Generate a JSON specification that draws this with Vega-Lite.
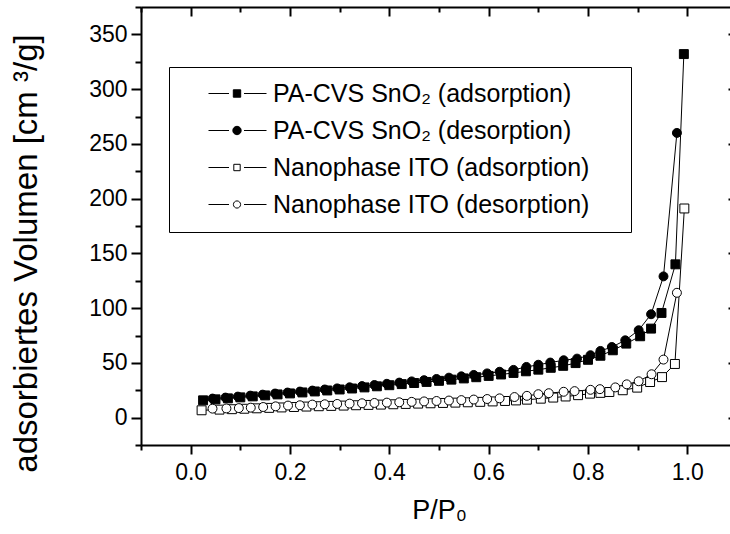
{
  "$schema": "https://vega.github.io/schema/vega-lite/v6.json",
  "width": 587,
  "height": 438,
  "autosize": "none",
  "padding": {"left": 141, "top": 7, "right": 2, "bottom": 89},
  "background": "white",
  "config": {
    "view": {"stroke": null},
    "font": "Liberation Sans",
    "axis": {
      "labelFont": "Liberation Sans",
      "titleFont": "Liberation Sans",
      "labelColor": "black",
      "titleColor": "black",
      "tickColor": "black",
      "domainColor": "black",
      "grid": false,
      "tickWidth": 2,
      "domainWidth": 2,
      "titleFontWeight": "normal",
      "labelFontSize": 23,
      "titleFontSize": 26
    }
  },
  "data": {
    "values": [
      {"series": "PA-CVS SnO₂ (adsorption)", "x": 0.025, "y": 15.8},
      {"series": "PA-CVS SnO₂ (adsorption)", "x": 0.05, "y": 16.7},
      {"series": "PA-CVS SnO₂ (adsorption)", "x": 0.075, "y": 17.6},
      {"series": "PA-CVS SnO₂ (adsorption)", "x": 0.1, "y": 18.5},
      {"series": "PA-CVS SnO₂ (adsorption)", "x": 0.125, "y": 19.4},
      {"series": "PA-CVS SnO₂ (adsorption)", "x": 0.15, "y": 20.3},
      {"series": "PA-CVS SnO₂ (adsorption)", "x": 0.175, "y": 21.2},
      {"series": "PA-CVS SnO₂ (adsorption)", "x": 0.2, "y": 22.1},
      {"series": "PA-CVS SnO₂ (adsorption)", "x": 0.225, "y": 23.0},
      {"series": "PA-CVS SnO₂ (adsorption)", "x": 0.25, "y": 23.9},
      {"series": "PA-CVS SnO₂ (adsorption)", "x": 0.275, "y": 24.8},
      {"series": "PA-CVS SnO₂ (adsorption)", "x": 0.3, "y": 25.7},
      {"series": "PA-CVS SnO₂ (adsorption)", "x": 0.325, "y": 26.6},
      {"series": "PA-CVS SnO₂ (adsorption)", "x": 0.35, "y": 27.6},
      {"series": "PA-CVS SnO₂ (adsorption)", "x": 0.375, "y": 28.6},
      {"series": "PA-CVS SnO₂ (adsorption)", "x": 0.4, "y": 29.6},
      {"series": "PA-CVS SnO₂ (adsorption)", "x": 0.425, "y": 30.6},
      {"series": "PA-CVS SnO₂ (adsorption)", "x": 0.45, "y": 31.6},
      {"series": "PA-CVS SnO₂ (adsorption)", "x": 0.475, "y": 32.6},
      {"series": "PA-CVS SnO₂ (adsorption)", "x": 0.5, "y": 33.6},
      {"series": "PA-CVS SnO₂ (adsorption)", "x": 0.525, "y": 34.7},
      {"series": "PA-CVS SnO₂ (adsorption)", "x": 0.55, "y": 35.8},
      {"series": "PA-CVS SnO₂ (adsorption)", "x": 0.575, "y": 36.9},
      {"series": "PA-CVS SnO₂ (adsorption)", "x": 0.6, "y": 38.1},
      {"series": "PA-CVS SnO₂ (adsorption)", "x": 0.625, "y": 39.4},
      {"series": "PA-CVS SnO₂ (adsorption)", "x": 0.65, "y": 40.8},
      {"series": "PA-CVS SnO₂ (adsorption)", "x": 0.675, "y": 42.3},
      {"series": "PA-CVS SnO₂ (adsorption)", "x": 0.7, "y": 43.8},
      {"series": "PA-CVS SnO₂ (adsorption)", "x": 0.725, "y": 45.5},
      {"series": "PA-CVS SnO₂ (adsorption)", "x": 0.75, "y": 47.3},
      {"series": "PA-CVS SnO₂ (adsorption)", "x": 0.775, "y": 49.8},
      {"series": "PA-CVS SnO₂ (adsorption)", "x": 0.8, "y": 52.8},
      {"series": "PA-CVS SnO₂ (adsorption)", "x": 0.825, "y": 56.5},
      {"series": "PA-CVS SnO₂ (adsorption)", "x": 0.85, "y": 61.5},
      {"series": "PA-CVS SnO₂ (adsorption)", "x": 0.877, "y": 67.6},
      {"series": "PA-CVS SnO₂ (adsorption)", "x": 0.905, "y": 74.3},
      {"series": "PA-CVS SnO₂ (adsorption)", "x": 0.927, "y": 81.3},
      {"series": "PA-CVS SnO₂ (adsorption)", "x": 0.948, "y": 95.6},
      {"series": "PA-CVS SnO₂ (adsorption)", "x": 0.976, "y": 140},
      {"series": "PA-CVS SnO₂ (adsorption)", "x": 0.993, "y": 332},
      {"series": "PA-CVS SnO₂ (desorption)", "x": 0.044, "y": 17.4},
      {"series": "PA-CVS SnO₂ (desorption)", "x": 0.07, "y": 18.3},
      {"series": "PA-CVS SnO₂ (desorption)", "x": 0.095, "y": 19.2},
      {"series": "PA-CVS SnO₂ (desorption)", "x": 0.12, "y": 20.1},
      {"series": "PA-CVS SnO₂ (desorption)", "x": 0.145, "y": 21.0},
      {"series": "PA-CVS SnO₂ (desorption)", "x": 0.17, "y": 22.0},
      {"series": "PA-CVS SnO₂ (desorption)", "x": 0.195, "y": 22.9},
      {"series": "PA-CVS SnO₂ (desorption)", "x": 0.22, "y": 23.8},
      {"series": "PA-CVS SnO₂ (desorption)", "x": 0.245, "y": 24.7},
      {"series": "PA-CVS SnO₂ (desorption)", "x": 0.27, "y": 25.7},
      {"series": "PA-CVS SnO₂ (desorption)", "x": 0.295, "y": 26.7},
      {"series": "PA-CVS SnO₂ (desorption)", "x": 0.32, "y": 27.7},
      {"series": "PA-CVS SnO₂ (desorption)", "x": 0.345, "y": 28.8},
      {"series": "PA-CVS SnO₂ (desorption)", "x": 0.37, "y": 29.8},
      {"series": "PA-CVS SnO₂ (desorption)", "x": 0.395, "y": 30.9},
      {"series": "PA-CVS SnO₂ (desorption)", "x": 0.42, "y": 32.0},
      {"series": "PA-CVS SnO₂ (desorption)", "x": 0.445, "y": 33.1},
      {"series": "PA-CVS SnO₂ (desorption)", "x": 0.47, "y": 34.2},
      {"series": "PA-CVS SnO₂ (desorption)", "x": 0.495, "y": 35.3},
      {"series": "PA-CVS SnO₂ (desorption)", "x": 0.52, "y": 36.5},
      {"series": "PA-CVS SnO₂ (desorption)", "x": 0.545, "y": 37.7},
      {"series": "PA-CVS SnO₂ (desorption)", "x": 0.57, "y": 39.0},
      {"series": "PA-CVS SnO₂ (desorption)", "x": 0.597, "y": 40.4},
      {"series": "PA-CVS SnO₂ (desorption)", "x": 0.622, "y": 41.9},
      {"series": "PA-CVS SnO₂ (desorption)", "x": 0.65, "y": 43.6},
      {"series": "PA-CVS SnO₂ (desorption)", "x": 0.676, "y": 46.3},
      {"series": "PA-CVS SnO₂ (desorption)", "x": 0.7, "y": 48.3},
      {"series": "PA-CVS SnO₂ (desorption)", "x": 0.724, "y": 50.3},
      {"series": "PA-CVS SnO₂ (desorption)", "x": 0.751, "y": 52.4},
      {"series": "PA-CVS SnO₂ (desorption)", "x": 0.778, "y": 53.9},
      {"series": "PA-CVS SnO₂ (desorption)", "x": 0.805, "y": 57.0},
      {"series": "PA-CVS SnO₂ (desorption)", "x": 0.825, "y": 60.9},
      {"series": "PA-CVS SnO₂ (desorption)", "x": 0.848, "y": 64.5},
      {"series": "PA-CVS SnO₂ (desorption)", "x": 0.875, "y": 70.6},
      {"series": "PA-CVS SnO₂ (desorption)", "x": 0.902, "y": 79.8},
      {"series": "PA-CVS SnO₂ (desorption)", "x": 0.927, "y": 94.4},
      {"series": "PA-CVS SnO₂ (desorption)", "x": 0.952, "y": 129},
      {"series": "PA-CVS SnO₂ (desorption)", "x": 0.979, "y": 260},
      {"series": "Nanophase ITO (adsorption)", "x": 0.022, "y": 6.7},
      {"series": "Nanophase ITO (adsorption)", "x": 0.058, "y": 7.3},
      {"series": "Nanophase ITO (adsorption)", "x": 0.083, "y": 7.7},
      {"series": "Nanophase ITO (adsorption)", "x": 0.108, "y": 8.1},
      {"series": "Nanophase ITO (adsorption)", "x": 0.133, "y": 8.5},
      {"series": "Nanophase ITO (adsorption)", "x": 0.158, "y": 8.9},
      {"series": "Nanophase ITO (adsorption)", "x": 0.183, "y": 9.3},
      {"series": "Nanophase ITO (adsorption)", "x": 0.208, "y": 9.7},
      {"series": "Nanophase ITO (adsorption)", "x": 0.233, "y": 10.1},
      {"series": "Nanophase ITO (adsorption)", "x": 0.258, "y": 10.4},
      {"series": "Nanophase ITO (adsorption)", "x": 0.283, "y": 10.7},
      {"series": "Nanophase ITO (adsorption)", "x": 0.308, "y": 11.0},
      {"series": "Nanophase ITO (adsorption)", "x": 0.333, "y": 11.3},
      {"series": "Nanophase ITO (adsorption)", "x": 0.358, "y": 11.6},
      {"series": "Nanophase ITO (adsorption)", "x": 0.383, "y": 11.9},
      {"series": "Nanophase ITO (adsorption)", "x": 0.408, "y": 12.2},
      {"series": "Nanophase ITO (adsorption)", "x": 0.433, "y": 12.5},
      {"series": "Nanophase ITO (adsorption)", "x": 0.458, "y": 12.8},
      {"series": "Nanophase ITO (adsorption)", "x": 0.483, "y": 13.1},
      {"series": "Nanophase ITO (adsorption)", "x": 0.508, "y": 13.4},
      {"series": "Nanophase ITO (adsorption)", "x": 0.533, "y": 13.7},
      {"series": "Nanophase ITO (adsorption)", "x": 0.558, "y": 14.0},
      {"series": "Nanophase ITO (adsorption)", "x": 0.583, "y": 14.4},
      {"series": "Nanophase ITO (adsorption)", "x": 0.608, "y": 14.8},
      {"series": "Nanophase ITO (adsorption)", "x": 0.633, "y": 15.2},
      {"series": "Nanophase ITO (adsorption)", "x": 0.655, "y": 15.7},
      {"series": "Nanophase ITO (adsorption)", "x": 0.677, "y": 16.4},
      {"series": "Nanophase ITO (adsorption)", "x": 0.705, "y": 17.3},
      {"series": "Nanophase ITO (adsorption)", "x": 0.73, "y": 18.3},
      {"series": "Nanophase ITO (adsorption)", "x": 0.755, "y": 19.3},
      {"series": "Nanophase ITO (adsorption)", "x": 0.78, "y": 20.5},
      {"series": "Nanophase ITO (adsorption)", "x": 0.804, "y": 21.9},
      {"series": "Nanophase ITO (adsorption)", "x": 0.825, "y": 22.6},
      {"series": "Nanophase ITO (adsorption)", "x": 0.843, "y": 23.4},
      {"series": "Nanophase ITO (adsorption)", "x": 0.87, "y": 25.0},
      {"series": "Nanophase ITO (adsorption)", "x": 0.899, "y": 27.4},
      {"series": "Nanophase ITO (adsorption)", "x": 0.925, "y": 32.5},
      {"series": "Nanophase ITO (adsorption)", "x": 0.949, "y": 37},
      {"series": "Nanophase ITO (adsorption)", "x": 0.975, "y": 49},
      {"series": "Nanophase ITO (adsorption)", "x": 0.994, "y": 191},
      {"series": "Nanophase ITO (desorption)", "x": 0.044, "y": 8.2},
      {"series": "Nanophase ITO (desorption)", "x": 0.072, "y": 8.4},
      {"series": "Nanophase ITO (desorption)", "x": 0.097, "y": 8.7},
      {"series": "Nanophase ITO (desorption)", "x": 0.121, "y": 9.1},
      {"series": "Nanophase ITO (desorption)", "x": 0.146, "y": 9.7},
      {"series": "Nanophase ITO (desorption)", "x": 0.171, "y": 10.3},
      {"series": "Nanophase ITO (desorption)", "x": 0.196, "y": 11.0},
      {"series": "Nanophase ITO (desorption)", "x": 0.22, "y": 11.3},
      {"series": "Nanophase ITO (desorption)", "x": 0.245, "y": 11.9},
      {"series": "Nanophase ITO (desorption)", "x": 0.27, "y": 12.2},
      {"series": "Nanophase ITO (desorption)", "x": 0.295, "y": 12.5},
      {"series": "Nanophase ITO (desorption)", "x": 0.32, "y": 12.8},
      {"series": "Nanophase ITO (desorption)", "x": 0.345, "y": 13.1},
      {"series": "Nanophase ITO (desorption)", "x": 0.37, "y": 13.4},
      {"series": "Nanophase ITO (desorption)", "x": 0.395, "y": 13.7},
      {"series": "Nanophase ITO (desorption)", "x": 0.42, "y": 14.0},
      {"series": "Nanophase ITO (desorption)", "x": 0.445, "y": 14.4},
      {"series": "Nanophase ITO (desorption)", "x": 0.47, "y": 14.8},
      {"series": "Nanophase ITO (desorption)", "x": 0.495, "y": 15.2},
      {"series": "Nanophase ITO (desorption)", "x": 0.52, "y": 15.6},
      {"series": "Nanophase ITO (desorption)", "x": 0.545, "y": 16.0},
      {"series": "Nanophase ITO (desorption)", "x": 0.57, "y": 16.5},
      {"series": "Nanophase ITO (desorption)", "x": 0.597, "y": 17.0},
      {"series": "Nanophase ITO (desorption)", "x": 0.622, "y": 17.6},
      {"series": "Nanophase ITO (desorption)", "x": 0.652, "y": 18.8},
      {"series": "Nanophase ITO (desorption)", "x": 0.677, "y": 19.9},
      {"series": "Nanophase ITO (desorption)", "x": 0.7, "y": 21.4},
      {"series": "Nanophase ITO (desorption)", "x": 0.721, "y": 22.3},
      {"series": "Nanophase ITO (desorption)", "x": 0.751, "y": 23.6},
      {"series": "Nanophase ITO (desorption)", "x": 0.773, "y": 24.2},
      {"series": "Nanophase ITO (desorption)", "x": 0.805, "y": 25.4},
      {"series": "Nanophase ITO (desorption)", "x": 0.824, "y": 26.0},
      {"series": "Nanophase ITO (desorption)", "x": 0.855, "y": 27.6},
      {"series": "Nanophase ITO (desorption)", "x": 0.878, "y": 30.4},
      {"series": "Nanophase ITO (desorption)", "x": 0.902, "y": 33.2},
      {"series": "Nanophase ITO (desorption)", "x": 0.928, "y": 39.6},
      {"series": "Nanophase ITO (desorption)", "x": 0.952, "y": 53},
      {"series": "Nanophase ITO (desorption)", "x": 0.979, "y": 114}
    ]
  },
  "resolve": {"axis": {"x": "independent", "y": "independent"}},
  "layer": [
    {
      "mark": {"type": "line", "color": "black", "strokeWidth": 1},
      "encoding": {
        "x": {"field": "x", "type": "quantitative",
          "scale": {"domain": [-0.1, 1.1], "range": [0, 596], "nice": false, "zero": false},
          "axis": {"orient": "bottom", "values": [0, 0.2, 0.4, 0.6, 0.8, 1.0], "format": ".1f", "tickSize": 9, "labelPadding": 7, "title": "P/P₀", "titleFontSize": 27, "titlePadding": 13}},
        "y": {"field": "y", "type": "quantitative",
          "scale": {"domain": [-25, 375], "nice": false, "zero": false},
          "axis": {"orient": "left", "values": [0, 50, 100, 150, 200, 250, 300, 350], "tickSize": 10, "labelPadding": 4, "title": "adsorbiertes Volumen [cm ³/g]", "titleFontSize": 33, "titlePadding": 45, "titleY": 246}},
        "detail": {"field": "series", "type": "nominal"}
      }
    },
    {
      "mark": {"type": "point", "stroke": "black", "strokeWidth": 1, "opacity": 1, "size": 80},
      "encoding": {
        "x": {"field": "x", "type": "quantitative",
          "scale": {"domain": [-0.1, 1.1], "range": [0, 596], "nice": false, "zero": false},
          "axis": {"orient": "bottom", "values": [-0.1, 0.1, 0.3, 0.5, 0.7, 0.9], "tickSize": 5, "labels": false, "domain": false, "title": null}},
        "y": {"field": "y", "type": "quantitative",
          "scale": {"domain": [-25, 375], "nice": false, "zero": false},
          "axis": {"orient": "left", "values": [-25, 25, 75, 125, 175, 225, 275, 325, 375], "tickSize": 6, "labels": false, "domain": false, "title": null}},
        "shape": {"condition": {"test": "datum.series == 'PA-CVS SnO₂ (adsorption)' || datum.series == 'Nanophase ITO (adsorption)'", "value": "square"}, "value": "circle"},
        "fill": {"condition": {"test": "datum.series == 'PA-CVS SnO₂ (adsorption)' || datum.series == 'PA-CVS SnO₂ (desorption)'", "value": "black"}, "value": "white"}
      }
    },
    {
      "transform": [{"filter": "datum.x > 5"}],
      "mark": {"type": "point", "filled": true, "color": "black", "stroke": "black", "strokeWidth": 1, "opacity": 1},
      "encoding": {
        "shape": {"field": "series", "type": "nominal",
          "scale": {"domain": ["PA-CVS SnO₂ (adsorption)", "PA-CVS SnO₂ (desorption)", "Nanophase ITO (adsorption)", "Nanophase ITO (desorption)"],
            "range": ["M-28.5,0H-8M7,0H29.5M-3.7,-3.7H3.7V3.7H-3.7Z", "M-28.5,0H-8M7,0H29.5M-4.2,0A4.2,4.2 0 1,0 4.2,0A4.2,4.2 0 1,0 -4.2,0Z", "M-28.5,0H-8M7,0H29.5M-3.2,-3.2H3.2V3.2H-3.2Z", "M-28.5,0H-8M7,0H29.5M-3.6,0A3.6,3.6 0 1,0 3.6,0A3.6,3.6 0 1,0 -3.6,0Z"]},
          "legend": {
            "title": "xx",
            "titleOrient": "right",
            "titleColor": "rgba(0,0,0,0)",
            "titleFontSize": 25,
            "titlePadding": 0,
            "orient": "none",
            "legendX": 28,
            "legendY": 60,
            "padding": 14,
            "strokeColor": "black",
            "labelFont": "Liberation Sans",
            "labelFontSize": 25,
            "labelColor": "black",
            "labelLimit": 1000,
            "symbolSize": 4,
            "symbolStrokeColor": "black",
            "symbolStrokeWidth": 1,
            "symbolOpacity": 1,
            "symbolOffset": 41.5,
            "labelOffset": 23.5,
            "rowPadding": 11,
            "encode": {"symbols": {"update": {"stroke": {"value": "black"}, "strokeWidth": {"value": 1}}}}}},
        "fill": {"field": "series", "type": "nominal",
          "scale": {"domain": ["PA-CVS SnO₂ (adsorption)", "PA-CVS SnO₂ (desorption)", "Nanophase ITO (adsorption)", "Nanophase ITO (desorption)"], "range": ["black", "black", "white", "white"]},
          "legend": {
            "title": "xx",
            "titleOrient": "right",
            "titleColor": "rgba(0,0,0,0)",
            "titleFontSize": 25,
            "titlePadding": 0,
            "orient": "none",
            "legendX": 28,
            "legendY": 60,
            "padding": 14,
            "strokeColor": "black",
            "labelFont": "Liberation Sans",
            "labelFontSize": 25,
            "labelColor": "black",
            "labelLimit": 1000,
            "symbolSize": 4,
            "symbolStrokeColor": "black",
            "symbolStrokeWidth": 1,
            "symbolOpacity": 1,
            "symbolOffset": 41.5,
            "labelOffset": 23.5,
            "rowPadding": 11,
            "encode": {"symbols": {"update": {"stroke": {"value": "black"}, "strokeWidth": {"value": 1}}}}}}
      }
    },
    {
      "mark": {"type": "point", "opacity": 0},
      "encoding": {
        "x": {"field": "x", "type": "quantitative",
          "scale": {"domain": [-0.1, 1.1], "range": [0, 596], "nice": false, "zero": false},
          "axis": {"orient": "top", "values": [0, 0.2, 0.4, 0.6, 0.8, 1.0], "tickSize": -9, "labels": false, "title": null}},
        "y": {"field": "y", "type": "quantitative",
          "scale": {"domain": [-25, 375], "nice": false, "zero": false},
          "axis": {"orient": "right", "offset": 9, "values": [0, 50, 100, 150, 200, 250, 300, 350], "tickSize": -9, "labels": false, "title": null}}
      }
    },
    {
      "mark": {"type": "point", "opacity": 0},
      "encoding": {
        "x": {"field": "x", "type": "quantitative",
          "scale": {"domain": [-0.1, 1.1], "range": [0, 596], "nice": false, "zero": false},
          "axis": {"orient": "top", "values": [-0.1, 0.1, 0.3, 0.5, 0.7, 0.9], "tickSize": -5, "labels": false, "domain": false, "title": null}},
        "y": {"field": "y", "type": "quantitative",
          "scale": {"domain": [-25, 375], "nice": false, "zero": false},
          "axis": {"orient": "right", "offset": 9, "values": [-25, 25, 75, 125, 175, 225, 275, 325, 375], "tickSize": -6, "labels": false, "domain": false, "title": null}}
      }
    }
  ]
}
